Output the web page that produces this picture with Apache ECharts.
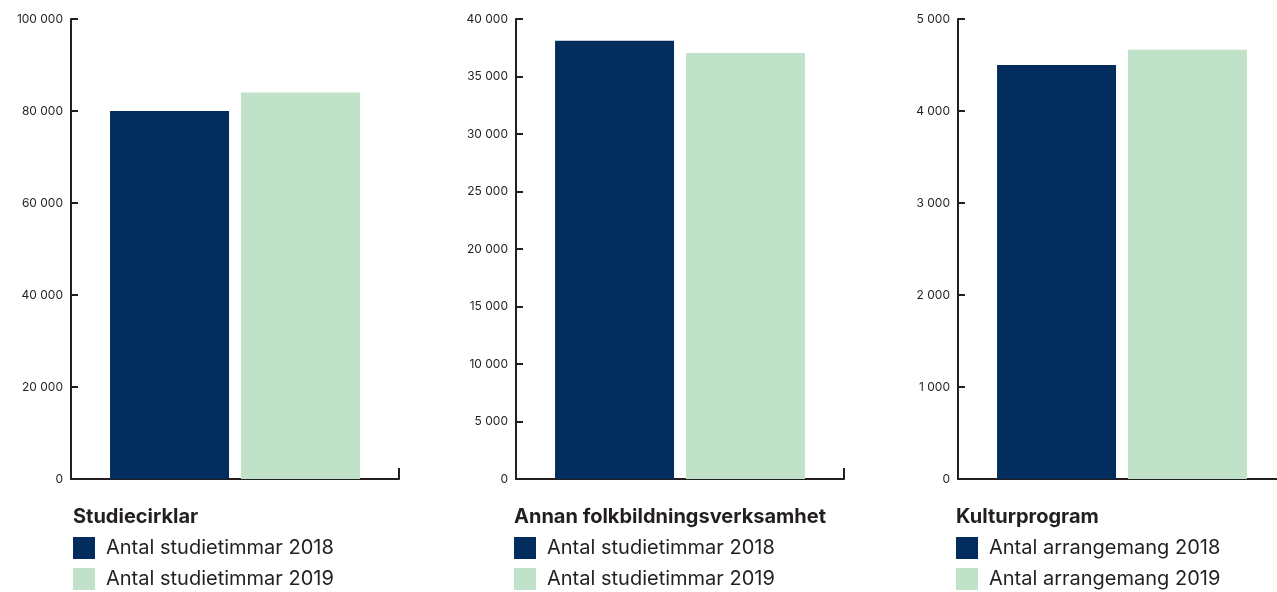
<!DOCTYPE html>
<html>
<head>
<meta charset="utf-8">
<script src="https://cdn.jsdelivr.net/npm/echarts@6/dist/echarts.min.js"></script>
<style>
html,body{margin:0;padding:0;background:#fff;}
#main{width:1277px;height:592px;}
</style>
</head>
<body>
<div id="main"></div>
<script>
const categories = ['Studiecirklar', 'Annan folkbildningsverksamhet', 'Kulturprogram'];
const values2018 = [80000, 38100, 4500];
const values2019 = [84000, 37050, 4665];
const names2018 = ['Antal studietimmar 2018', 'Antal studietimmar 2018', 'Antal arrangemang 2018'];
const names2019 = ['Antal studietimmar 2019', 'Antal studietimmar 2019', 'Antal arrangemang 2019'];
const axisMax = [100000, 40000, 5000];
const axisInterval = [20000, 5000, 1000];

const lefts = [71, 516, 958];
const textLefts = [73, 514, 956];
const FONT = 'Inter, "Noto Sans", sans-serif';
const AX = '#231f20';
const DARK = '#022d5c';
const LIGHT = '#c0e2c9';

function fmt(v){ return String(v).replace(/\B(?=(\d{3})+(?!\d))/g, ' '); }

const grid = [], xAxis = [], yAxis = [], series = [], title = [], legend = [];
categories.forEach((c, i) => {
  grid.push({left: lefts[i], top: 19, width: 328, height: 460, outerBoundsMode: 'none', containLabel: false});
  xAxis.push({
    type: 'category', gridIndex: i, data: [c],
    axisLine: {show: true, lineStyle: {color: AX, width: 2}},
    axisTick: {show: true, inside: true, length: 11, lineStyle: {color: AX, width: 2}},
    axisLabel: {show: false}
  });
  yAxis.push({
    type: 'value', gridIndex: i, min: 0, max: axisMax[i], interval: axisInterval[i],
    axisLine: {show: true, lineStyle: {color: AX, width: 2}},
    axisTick: {show: true, inside: true, length: 7, lineStyle: {color: AX, width: 2}},
    splitLine: {show: false},
    axisLabel: {fontSize: 12, color: AX, margin: 8, fontFamily: FONT, formatter: fmt}
  });
  series.push({
    type: 'bar', name: names2018[i], xAxisIndex: i, yAxisIndex: i,
    data: [values2018[i]], barWidth: 119, barGap: '10%',
    itemStyle: {color: DARK}
  });
  series.push({
    type: 'bar', name: names2019[i], xAxisIndex: i, yAxisIndex: i,
    data: [values2019[i]], barWidth: 119, barGap: '10%',
    itemStyle: {color: LIGHT}
  });
  title.push({
    text: c, left: textLefts[i], top: 507, padding: 0,
    textStyle: {fontSize: 20, fontWeight: 'bold', color: AX, fontFamily: FONT}
  });
  legend.push({
    data: [names2018[i], names2019[i]], orient: 'vertical',
    left: textLefts[i], top: 537, padding: 0,
    itemWidth: 22, itemHeight: 22, itemGap: 9, icon: 'rect',
    selectedMode: false,
    textStyle: {fontSize: 20, color: AX, fontFamily: FONT, padding: [0,0,0,6]}
  });
});

const chart = echarts.init(document.getElementById('main'));
chart.setOption({
  animation: false,
  title, legend, grid, xAxis, yAxis, series
});
</script>
</body>
</html>
